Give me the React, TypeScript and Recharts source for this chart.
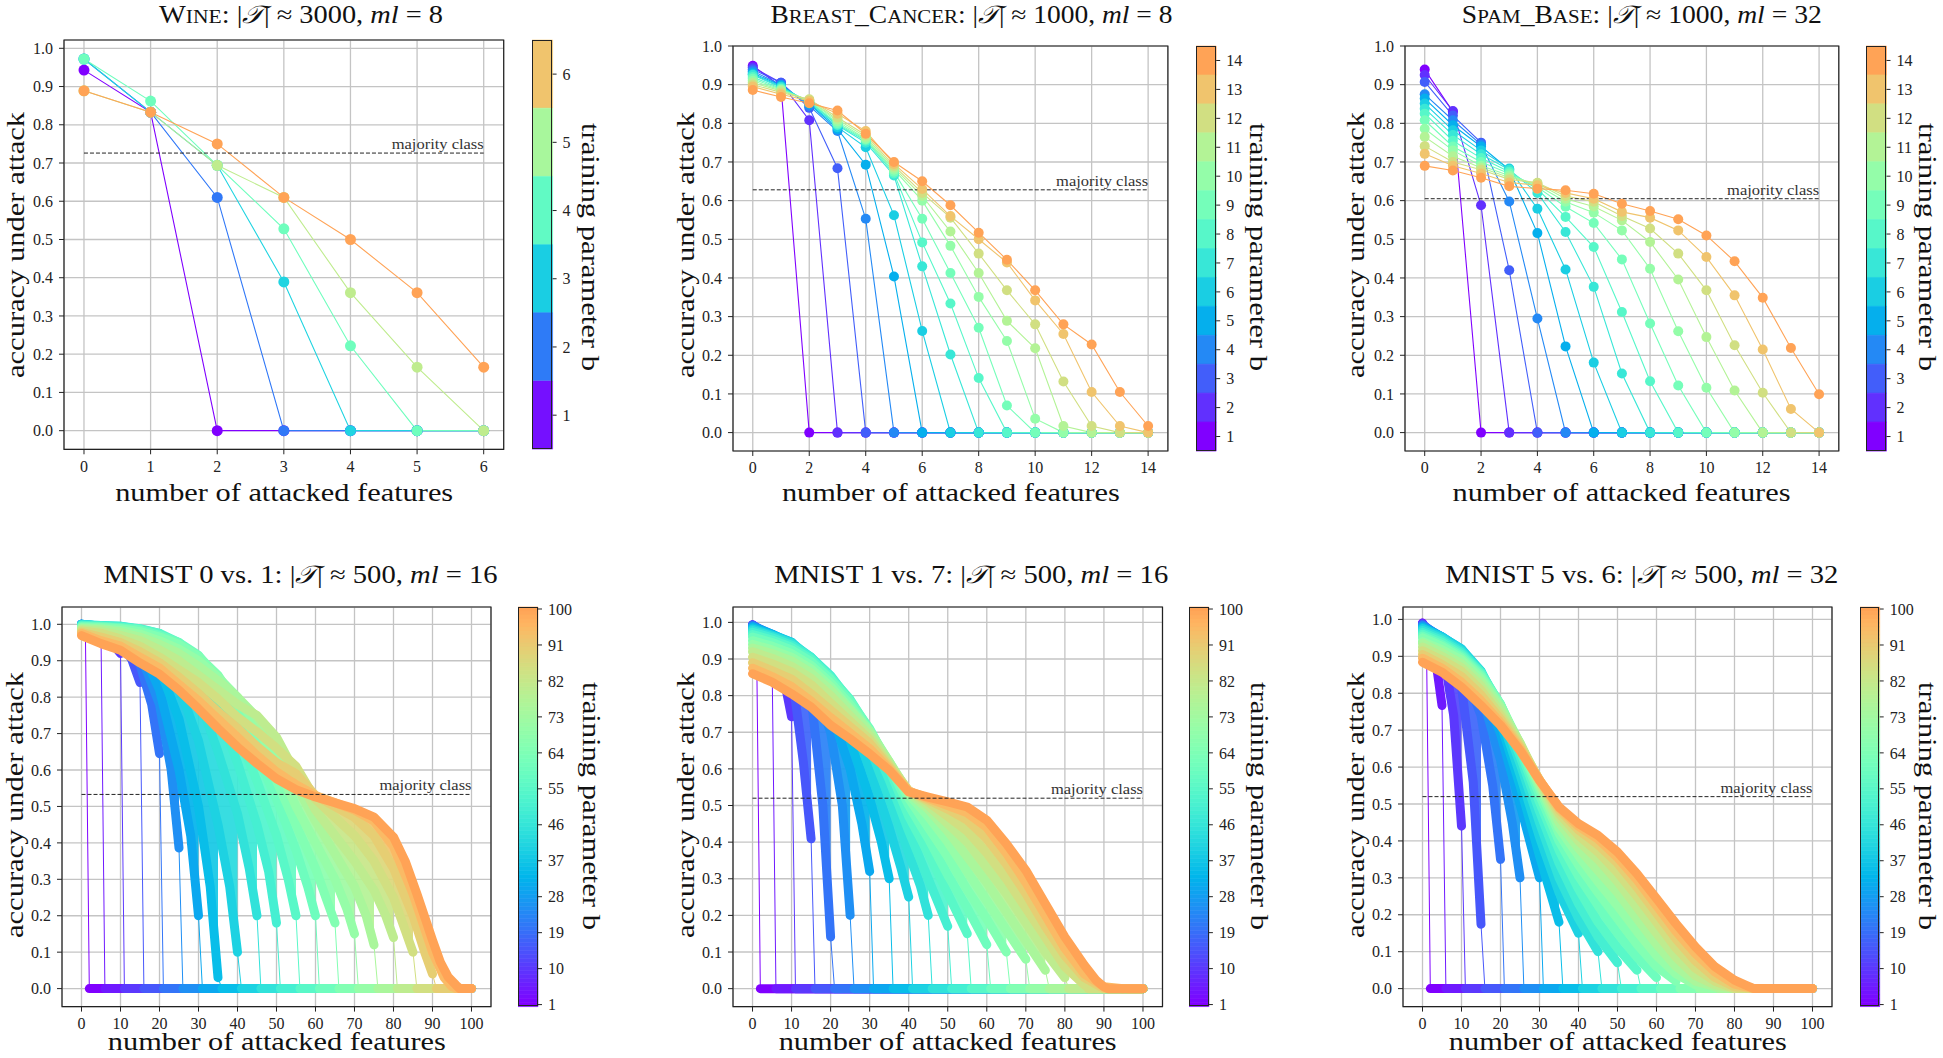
import React from 'react';
import { ComposedChart, Line, Area, XAxis, YAxis, CartesianGrid, ReferenceLine, ReferenceArea, BarChart, Bar, Cell } from 'recharts';

const FONT = '"Liberation Serif", "DejaVu Serif", serif';
const INK = '#222';
const GRID = '#c4c4c4';

const Y_TICKS = [0, 0.1, 0.2, 0.3, 0.4, 0.5, 0.6, 0.7, 0.8, 0.9, 1.0];

// ---------- Wine ----------
const WINE_X = [0, 1, 2, 3, 4, 5, 6];
const WINE_B = [1, 2, 3, 4, 5, 6];
const WINE_ACC = [
  [0.943, 0.833, 0, 0, 0, 0, 0],
  [0.972, 0.833, 0.61, 0, 0, 0, 0],
  [0.972, 0.833, 0.694, 0.389, 0, 0, 0],
  [0.972, 0.862, 0.694, 0.528, 0.222, 0, 0],
  [0.889, 0.833, 0.694, 0.61, 0.361, 0.166, 0],
  [0.889, 0.833, 0.75, 0.61, 0.5, 0.361, 0.166],
];
const WINE_MAJORITY = 0.726;

// ---------- Breast cancer ----------
const BC_X = [0, 1, 2, 3, 4, 5, 6, 7, 8, 9, 10, 11, 12, 13, 14];
const BC_B = [1, 2, 3, 4, 5, 6, 7, 8, 9, 10, 11, 12, 13, 14];
const BC_ACC = [
  [0.949, 0.895, 0, 0, 0, 0, 0, 0, 0, 0, 0, 0, 0, 0, 0],
  [0.945, 0.905, 0.808, 0, 0, 0, 0, 0, 0, 0, 0, 0, 0, 0, 0],
  [0.94, 0.905, 0.84, 0.684, 0, 0, 0, 0, 0, 0, 0, 0, 0, 0, 0],
  [0.935, 0.9, 0.845, 0.78, 0.553, 0, 0, 0, 0, 0, 0, 0, 0, 0, 0],
  [0.93, 0.898, 0.85, 0.785, 0.693, 0.404, 0, 0, 0, 0, 0, 0, 0, 0, 0],
  [0.927, 0.895, 0.852, 0.79, 0.738, 0.562, 0.263, 0, 0, 0, 0, 0, 0, 0, 0],
  [0.925, 0.893, 0.855, 0.795, 0.75, 0.665, 0.43, 0.202, 0, 0, 0, 0, 0, 0, 0],
  [0.92, 0.89, 0.856, 0.797, 0.755, 0.67, 0.492, 0.334, 0.141, 0, 0, 0, 0, 0, 0],
  [0.915, 0.888, 0.858, 0.8, 0.758, 0.675, 0.553, 0.413, 0.271, 0.07, 0, 0, 0, 0, 0],
  [0.91, 0.886, 0.86, 0.805, 0.76, 0.68, 0.6, 0.483, 0.351, 0.237, 0.036, 0, 0, 0, 0],
  [0.905, 0.884, 0.86, 0.81, 0.765, 0.685, 0.612, 0.52, 0.413, 0.289, 0.218, 0.017, 0, 0, 0],
  [0.9, 0.88, 0.862, 0.815, 0.77, 0.69, 0.62, 0.556, 0.463, 0.368, 0.28, 0.132, 0.017, 0, 0],
  [0.895, 0.875, 0.858, 0.825, 0.78, 0.695, 0.63, 0.56, 0.5, 0.44, 0.342, 0.255, 0.105, 0.017, 0],
  [0.886, 0.868, 0.852, 0.833, 0.773, 0.7, 0.65, 0.588, 0.517, 0.447, 0.368, 0.28, 0.228, 0.105, 0.017],
];
const BC_MAJORITY = 0.628;

// ---------- Spam base ----------
const SPAM_X = [0, 1, 2, 3, 4, 5, 6, 7, 8, 9, 10, 11, 12, 13, 14];
const SPAM_B = [1, 2, 3, 4, 5, 6, 7, 8, 9, 10, 11, 12, 13, 14];
const SPAM_ACC = [
  [0.939, 0.83, 0, 0, 0, 0, 0, 0, 0, 0, 0, 0, 0, 0, 0],
  [0.925, 0.832, 0.588, 0, 0, 0, 0, 0, 0, 0, 0, 0, 0, 0, 0],
  [0.907, 0.82, 0.75, 0.42, 0, 0, 0, 0, 0, 0, 0, 0, 0, 0, 0],
  [0.875, 0.808, 0.745, 0.598, 0.295, 0, 0, 0, 0, 0, 0, 0, 0, 0, 0],
  [0.864, 0.795, 0.74, 0.68, 0.516, 0.223, 0, 0, 0, 0, 0, 0, 0, 0, 0],
  [0.851, 0.782, 0.73, 0.683, 0.579, 0.422, 0.181, 0, 0, 0, 0, 0, 0, 0, 0],
  [0.838, 0.77, 0.72, 0.68, 0.62, 0.519, 0.377, 0.153, 0, 0, 0, 0, 0, 0, 0],
  [0.825, 0.755, 0.71, 0.675, 0.63, 0.558, 0.48, 0.312, 0.133, 0, 0, 0, 0, 0, 0],
  [0.808, 0.74, 0.7, 0.67, 0.635, 0.584, 0.542, 0.448, 0.282, 0.122, 0, 0, 0, 0, 0],
  [0.786, 0.73, 0.69, 0.665, 0.64, 0.597, 0.569, 0.523, 0.424, 0.262, 0.116, 0, 0, 0, 0],
  [0.765, 0.715, 0.685, 0.66, 0.645, 0.605, 0.585, 0.549, 0.493, 0.396, 0.247, 0.109, 0, 0, 0],
  [0.741, 0.7, 0.68, 0.655, 0.646, 0.612, 0.597, 0.56, 0.528, 0.463, 0.368, 0.226, 0.103, 0, 0],
  [0.721, 0.69, 0.67, 0.647, 0.64, 0.62, 0.605, 0.571, 0.556, 0.523, 0.454, 0.355, 0.215, 0.061, 0],
  [0.69, 0.678, 0.659, 0.637, 0.631, 0.627, 0.618, 0.592, 0.573, 0.552, 0.51, 0.443, 0.349, 0.219, 0.099],
];
const SPAM_MAJORITY = 0.605;

// ---------- MNIST (sampled b values, [features, accuracy] pairs) ----------
const MNIST_B = [1, 5, 10, 15, 20, 25, 30, 35, 40, 45, 50, 55, 60, 65, 70, 75, 80, 85, 90, 95, 100];
const MNIST_XTICKS = [0, 10, 20, 30, 40, 50, 60, 70, 80, 90, 100];
const MNIST_CB_TICKS = [1, 10, 19, 28, 37, 46, 55, 64, 73, 82, 91, 100];

const M01_CURVES = [
  [[0, 1.0], [1, 0.98]],
  [[0, 1.0], [5, 0.97]],
  [[0, 1.0], [5, 0.985], [10, 0.92]],
  [[0, 1.0], [5, 0.99], [10, 0.96], [13, 0.9], [15, 0.84]],
  [[0, 1.0], [5, 0.99], [10, 0.97], [15, 0.89], [18, 0.78], [20, 0.645]],
  [[0, 1.0], [5, 0.99], [10, 0.975], [15, 0.92], [20, 0.78], [23, 0.6], [25, 0.386]],
  [[0, 1.0], [5, 0.995], [10, 0.98], [15, 0.94], [20, 0.82], [25, 0.6], [28, 0.42], [30, 0.2]],
  [[0, 1.0], [5, 0.995], [10, 0.985], [15, 0.96], [20, 0.88], [25, 0.74], [30, 0.5], [33, 0.28], [35, 0.03]],
  [[0, 1.0], [5, 0.995], [10, 0.99], [15, 0.975], [20, 0.93], [25, 0.83], [30, 0.68], [35, 0.45], [38, 0.28], [40, 0.1]],
  [[0, 0.999], [5, 0.997], [10, 0.995], [15, 0.985], [20, 0.96], [25, 0.9], [30, 0.8], [35, 0.65], [40, 0.48], [43, 0.33], [45, 0.2]],
  [[0, 0.998], [5, 0.997], [10, 0.995], [15, 0.988], [20, 0.975], [25, 0.93], [30, 0.86], [35, 0.76], [40, 0.62], [45, 0.45], [48, 0.32], [50, 0.18]],
  [[0, 0.996], [5, 0.995], [10, 0.992], [15, 0.987], [20, 0.975], [25, 0.95], [30, 0.9], [35, 0.82], [40, 0.7], [45, 0.57], [50, 0.42], [53, 0.3], [55, 0.2]],
  [[0, 0.994], [5, 0.993], [10, 0.99], [15, 0.985], [20, 0.97], [25, 0.95], [30, 0.915], [35, 0.85], [40, 0.75], [45, 0.64], [50, 0.52], [55, 0.38], [58, 0.28], [60, 0.2]],
  [[0, 0.992], [5, 0.991], [10, 0.988], [15, 0.98], [20, 0.965], [25, 0.945], [30, 0.912], [35, 0.86], [40, 0.78], [45, 0.68], [50, 0.57], [55, 0.45], [60, 0.33], [63, 0.24], [65, 0.18]],
  [[0, 0.99], [5, 0.988], [10, 0.983], [15, 0.973], [20, 0.955], [25, 0.932], [30, 0.9], [35, 0.855], [40, 0.8], [45, 0.72], [50, 0.62], [55, 0.5], [60, 0.4], [65, 0.3], [68, 0.22], [70, 0.15]],
  [[0, 0.988], [5, 0.985], [10, 0.978], [15, 0.965], [20, 0.945], [25, 0.92], [30, 0.885], [35, 0.845], [40, 0.8], [45, 0.745], [50, 0.67], [55, 0.56], [60, 0.46], [65, 0.37], [70, 0.28], [73, 0.2], [75, 0.12]],
  [[0, 0.985], [5, 0.98], [10, 0.97], [15, 0.955], [20, 0.93], [25, 0.9], [30, 0.86], [35, 0.82], [40, 0.78], [45, 0.75], [50, 0.69], [55, 0.59], [60, 0.49], [65, 0.42], [70, 0.35], [75, 0.27], [78, 0.2], [80, 0.14]],
  [[0, 0.982], [5, 0.975], [10, 0.96], [15, 0.94], [20, 0.91], [25, 0.875], [30, 0.84], [35, 0.795], [40, 0.745], [45, 0.705], [50, 0.66], [55, 0.61], [60, 0.52], [65, 0.47], [70, 0.42], [75, 0.35], [80, 0.25], [83, 0.16], [85, 0.1]],
  [[0, 0.978], [5, 0.965], [10, 0.95], [15, 0.925], [20, 0.895], [25, 0.855], [30, 0.81], [35, 0.76], [40, 0.715], [45, 0.665], [50, 0.62], [55, 0.59], [60, 0.53], [65, 0.5], [70, 0.47], [75, 0.42], [80, 0.33], [85, 0.2], [88, 0.1], [90, 0.04]],
  [[0, 0.975], [5, 0.955], [10, 0.94], [15, 0.91], [20, 0.88], [25, 0.835], [30, 0.79], [35, 0.74], [40, 0.69], [45, 0.64], [50, 0.595], [55, 0.56], [60, 0.53], [65, 0.51], [70, 0.49], [75, 0.46], [80, 0.39], [85, 0.26], [90, 0.1], [93, 0.03], [95, 0.005]],
  [[0, 0.969], [5, 0.947], [10, 0.929], [15, 0.894], [20, 0.863], [25, 0.819], [30, 0.768], [35, 0.714], [40, 0.663], [45, 0.618], [50, 0.576], [55, 0.546], [60, 0.526], [65, 0.51], [70, 0.494], [75, 0.471], [80, 0.416], [83, 0.35], [86, 0.26], [88, 0.197], [90, 0.133], [92, 0.073], [94, 0.032], [96, 0.01], [97, 0], [100, 0]],
];
const M01_MAJORITY = 0.533;

const M17_CURVES = [
  [[0, 0.993], [1, 0.985]],
  [[0, 0.993], [3, 0.96], [5, 0.9]],
  [[0, 0.993], [5, 0.94], [8, 0.85], [10, 0.742]],
  [[0, 0.993], [5, 0.96], [10, 0.87], [13, 0.62], [15, 0.409]],
  [[0, 0.992], [5, 0.965], [10, 0.92], [15, 0.8], [18, 0.5], [20, 0.141]],
  [[0, 0.99], [5, 0.968], [10, 0.935], [15, 0.86], [20, 0.7], [23, 0.5], [25, 0.2]],
  [[0, 0.988], [5, 0.968], [10, 0.943], [15, 0.88], [20, 0.76], [25, 0.6], [28, 0.45], [30, 0.32]],
  [[0, 0.985], [5, 0.967], [10, 0.946], [15, 0.89], [20, 0.8], [25, 0.68], [30, 0.52], [33, 0.4], [35, 0.3]],
  [[0, 0.982], [5, 0.965], [10, 0.946], [15, 0.9], [20, 0.83], [25, 0.74], [30, 0.6], [35, 0.44], [38, 0.33], [40, 0.25]],
  [[0, 0.978], [5, 0.962], [10, 0.943], [15, 0.905], [20, 0.85], [25, 0.77], [30, 0.66], [35, 0.52], [40, 0.37], [43, 0.28], [45, 0.2]],
  [[0, 0.973], [5, 0.958], [10, 0.938], [15, 0.905], [20, 0.855], [25, 0.785], [30, 0.69], [35, 0.57], [40, 0.43], [45, 0.3], [50, 0.17]],
  [[0, 0.967], [5, 0.952], [10, 0.932], [15, 0.9], [20, 0.85], [25, 0.79], [30, 0.705], [35, 0.6], [40, 0.47], [45, 0.37], [50, 0.26], [55, 0.15]],
  [[0, 0.96], [5, 0.945], [10, 0.925], [15, 0.893], [20, 0.845], [25, 0.785], [30, 0.71], [35, 0.61], [40, 0.5], [45, 0.41], [50, 0.31], [55, 0.22], [60, 0.12]],
  [[0, 0.95], [5, 0.935], [10, 0.915], [15, 0.883], [20, 0.835], [25, 0.775], [30, 0.705], [35, 0.615], [40, 0.52], [45, 0.44], [50, 0.36], [55, 0.27], [60, 0.19], [65, 0.1]],
  [[0, 0.94], [5, 0.925], [10, 0.905], [15, 0.873], [20, 0.825], [25, 0.765], [30, 0.705], [35, 0.62], [40, 0.53], [45, 0.47], [50, 0.4], [55, 0.32], [60, 0.24], [65, 0.16], [70, 0.08]],
  [[0, 0.93], [5, 0.915], [10, 0.895], [15, 0.862], [20, 0.815], [25, 0.76], [30, 0.7], [35, 0.62], [40, 0.535], [45, 0.49], [50, 0.43], [55, 0.36], [60, 0.29], [65, 0.21], [70, 0.13], [75, 0.05]],
  [[0, 0.92], [5, 0.902], [10, 0.88], [15, 0.847], [20, 0.8], [25, 0.745], [30, 0.69], [35, 0.615], [40, 0.54], [45, 0.5], [50, 0.45], [55, 0.4], [60, 0.33], [65, 0.26], [70, 0.18], [75, 0.1], [80, 0.03]],
  [[0, 0.905], [5, 0.887], [10, 0.865], [15, 0.83], [20, 0.78], [25, 0.73], [30, 0.68], [35, 0.61], [40, 0.54], [45, 0.51], [50, 0.47], [55, 0.43], [60, 0.37], [65, 0.3], [70, 0.22], [75, 0.14], [80, 0.06], [85, 0.01]],
  [[0, 0.89], [5, 0.868], [10, 0.845], [15, 0.805], [20, 0.76], [25, 0.715], [30, 0.67], [35, 0.605], [40, 0.54], [45, 0.515], [50, 0.49], [55, 0.46], [60, 0.41], [65, 0.34], [70, 0.26], [75, 0.17], [80, 0.09], [85, 0.03], [90, 0]],
  [[0, 0.875], [5, 0.852], [10, 0.825], [15, 0.785], [20, 0.74], [25, 0.698], [30, 0.655], [35, 0.6], [40, 0.54], [45, 0.52], [50, 0.5], [55, 0.48], [60, 0.44], [65, 0.37], [70, 0.29], [75, 0.2], [80, 0.11], [85, 0.04], [90, 0.005], [95, 0]],
  [[0, 0.86], [5, 0.837], [10, 0.805], [15, 0.769], [20, 0.719], [25, 0.682], [30, 0.641], [35, 0.596], [40, 0.537], [45, 0.523], [50, 0.51], [55, 0.496], [60, 0.46], [65, 0.396], [70, 0.323], [75, 0.232], [80, 0.141], [85, 0.064], [88, 0.023], [90, 0.005], [91, 0], [100, 0]],
];
const M17_MAJORITY = 0.52;

const M56_CURVES = [
  [[0, 0.99], [1, 0.96]],
  [[0, 0.99], [3, 0.92], [5, 0.767]],
  [[0, 0.988], [5, 0.93], [8, 0.74], [10, 0.44]],
  [[0, 0.987], [5, 0.945], [10, 0.82], [13, 0.56], [15, 0.174]],
  [[0, 0.985], [5, 0.95], [10, 0.88], [15, 0.74], [18, 0.55], [20, 0.35]],
  [[0, 0.983], [5, 0.952], [10, 0.905], [15, 0.8], [20, 0.62], [23, 0.45], [25, 0.3]],
  [[0, 0.98], [5, 0.953], [10, 0.915], [15, 0.83], [20, 0.69], [25, 0.5], [28, 0.38], [30, 0.3]],
  [[0, 0.978], [5, 0.953], [10, 0.92], [15, 0.85], [20, 0.72], [25, 0.55], [30, 0.36], [35, 0.18]],
  [[0, 0.975], [5, 0.952], [10, 0.92], [15, 0.86], [20, 0.74], [25, 0.58], [30, 0.41], [35, 0.26], [40, 0.15]],
  [[0, 0.97], [5, 0.948], [10, 0.915], [15, 0.86], [20, 0.755], [25, 0.61], [30, 0.45], [35, 0.3], [40, 0.19], [45, 0.1]],
  [[0, 0.965], [5, 0.943], [10, 0.91], [15, 0.858], [20, 0.765], [25, 0.63], [30, 0.48], [35, 0.34], [40, 0.23], [45, 0.14], [50, 0.07]],
  [[0, 0.96], [5, 0.938], [10, 0.905], [15, 0.855], [20, 0.77], [25, 0.645], [30, 0.505], [35, 0.375], [40, 0.27], [45, 0.18], [50, 0.11], [55, 0.05]],
  [[0, 0.955], [5, 0.932], [10, 0.9], [15, 0.85], [20, 0.77], [25, 0.655], [30, 0.525], [35, 0.4], [40, 0.305], [45, 0.225], [50, 0.15], [55, 0.085], [60, 0.03]],
  [[0, 0.95], [5, 0.927], [10, 0.895], [15, 0.845], [20, 0.77], [25, 0.66], [30, 0.54], [35, 0.42], [40, 0.335], [45, 0.26], [50, 0.19], [55, 0.12], [60, 0.06], [65, 0.02]],
  [[0, 0.94], [5, 0.918], [10, 0.89], [15, 0.838], [20, 0.765], [25, 0.665], [30, 0.55], [35, 0.435], [40, 0.36], [45, 0.29], [50, 0.225], [55, 0.155], [60, 0.09], [65, 0.04], [70, 0.01]],
  [[0, 0.935], [5, 0.91], [10, 0.88], [15, 0.83], [20, 0.76], [25, 0.665], [30, 0.555], [35, 0.45], [40, 0.38], [45, 0.32], [50, 0.26], [55, 0.19], [60, 0.12], [65, 0.06], [70, 0.02], [75, 0.005]],
  [[0, 0.925], [5, 0.9], [10, 0.87], [15, 0.82], [20, 0.75], [25, 0.665], [30, 0.56], [35, 0.465], [40, 0.4], [45, 0.35], [50, 0.29], [55, 0.22], [60, 0.15], [65, 0.085], [70, 0.035], [75, 0.01], [80, 0]],
  [[0, 0.915], [5, 0.89], [10, 0.86], [15, 0.808], [20, 0.74], [25, 0.66], [30, 0.565], [35, 0.475], [40, 0.415], [45, 0.37], [50, 0.315], [55, 0.25], [60, 0.18], [65, 0.11], [70, 0.055], [75, 0.02], [80, 0], [85, 0]],
  [[0, 0.905], [5, 0.878], [10, 0.845], [15, 0.795], [20, 0.73], [25, 0.655], [30, 0.565], [35, 0.485], [40, 0.43], [45, 0.39], [50, 0.34], [55, 0.275], [60, 0.205], [65, 0.135], [70, 0.075], [75, 0.03], [80, 0.005], [85, 0], [90, 0]],
  [[0, 0.895], [5, 0.868], [10, 0.83], [15, 0.78], [20, 0.72], [25, 0.65], [30, 0.565], [35, 0.49], [40, 0.44], [45, 0.405], [50, 0.355], [55, 0.295], [60, 0.225], [65, 0.155], [70, 0.095], [75, 0.045], [80, 0.012], [85, 0], [95, 0]],
  [[0, 0.884], [5, 0.857], [10, 0.817], [15, 0.767], [20, 0.713], [25, 0.645], [30, 0.564], [35, 0.492], [40, 0.447], [45, 0.415], [50, 0.37], [55, 0.311], [60, 0.244], [65, 0.176], [70, 0.113], [75, 0.059], [80, 0.023], [83, 0.009], [85, 0], [100, 0]],
];
const M56_MAJORITY = 0.52;

// matplotlib "rainbow" colormap
function rainbow(t: number) {
  const r = Math.min(1, Math.abs(2 * t - 0.5));
  const g = Math.sin(Math.PI * t);
  const b = Math.cos((Math.PI * t) / 2);
  return `rgb(${Math.round(r * 255)},${Math.round(g * 255)},${Math.round(b * 255)})`;
}

const tickStyle = { fontSize: 16, fontFamily: FONT, fill: INK };

type Box = { L: number; R: number; T: number; B: number };

function Panel({ box, xDomain, yDomain, xTicks, majority, majorityEnd, lines }: any) {
  const YW = 60, XH = 40, PAD = 16;
  const w = box.R - box.L, h = box.B - box.T;
  return (
    <div style={{ position: 'absolute', left: box.L - YW, top: box.T - PAD }}>
      <ComposedChart width={w + YW + PAD} height={h + PAD + XH} margin={{ top: PAD, right: PAD, bottom: 0, left: 0 }}>
        <CartesianGrid stroke={GRID} strokeWidth={1.3} />
        <XAxis type="number" dataKey="x" domain={xDomain} ticks={xTicks} interval={0} allowDataOverflow
          height={XH} tickSize={5} tickMargin={6} tick={tickStyle} axisLine={false} tickLine={{ stroke: INK }} />
        <YAxis type="number" domain={yDomain} ticks={Y_TICKS} interval={0} allowDataOverflow width={YW}
          tickFormatter={(v: number) => v.toFixed(1)} tickSize={5} tickMargin={6} tick={tickStyle}
          axisLine={false} tickLine={{ stroke: INK }} />
        {lines}
        <ReferenceLine
          segment={[{ x: 0, y: majority }, { x: majorityEnd, y: majority }]}
          stroke={INK} strokeDasharray="4 2" strokeWidth={1}
          label={(p: any) => {
            const vb = p.viewBox || {};
            return (
              <text x={(vb.x || 0) + (vb.width || 0)} y={(vb.y || 0) - 4} textAnchor="end"
                fontSize={14} fontFamily={FONT} fill="#333" textLength={92} lengthAdjust="spacingAndGlyphs">majority class</text>
            );
          }}
        />
        <ReferenceArea x1={xDomain[0]} x2={xDomain[1]} y1={yDomain[0]} y2={yDomain[1]}
          fill="none" stroke={INK} strokeWidth={1.2} ifOverflow="visible" />
      </ComposedChart>
    </div>
  );
}

function smallLines(xs: number[], bs: number[], acc: number[][], r: number) {
  const n = bs.length;
  return bs.map((b, i) => {
    const c = rainbow(((b - 1) / (n - 1)) * 0.78);
    const data = xs.map((x, j) => ({ x, y: acc[i][j] }));
    return (
      <Line key={`s${b}`} data={data} dataKey="y" type="linear" stroke={c} strokeWidth={1.1}
        dot={{ r, fill: c, stroke: c, strokeWidth: 0 }} activeDot={false} isAnimationActive={false} />
    );
  });
}

// band between two neighbouring sampled curves, at the feature counts both share
function pairBand(curA: number[][], curB: number[][]) {
  const out: any[] = [];
  curA.forEach(([x, ya]) => {
    const m = curB.find((p) => p[0] === x);
    if (m) out.push({ x, y: [ya, m[1]] });
  });
  return out;
}

function mnistLines(curves: number[][][]) {
  const fills: any[] = [];
  const out: any[] = [];
  MNIST_B.forEach((b, i) => {
    if (i < MNIST_B.length - 1) {
      const band = pairBand(curves[i], curves[i + 1]);
      if (band.length > 1) {
        const cm = rainbow((((b + MNIST_B[i + 1]) / 2 - 1) / 99) * 0.78);
        fills.push(
          <Area key={`f${b}`} data={band} dataKey="y" type="linear" stroke="none" fill={cm}
            fillOpacity={0.92} dot={false} activeDot={false} isAnimationActive={false} />
        );
      }
    }
    const c = rainbow(((b - 1) / 99) * 0.78);
    const pts = curves[i].map(([x, y]) => ({ x, y }));
    const last = pts[pts.length - 1];
    if (last.x < 100) {
      out.push(
        <Line key={`d${b}`} data={[last, { x: b + 1, y: 0 }]} dataKey="y" type="linear" stroke={c}
          strokeWidth={1} dot={false} activeDot={false} isAnimationActive={false} />
      );
      out.push(
        <Line key={`z${b}`} data={[{ x: b + 1, y: 0 }, { x: 100, y: 0 }]} dataKey="y" type="linear" stroke={c}
          strokeWidth={9} strokeLinecap="round" dot={false} activeDot={false} isAnimationActive={false} />
      );
    }
    out.push(
      <Line key={`c${b}`} data={pts} dataKey="y" type="linear" stroke={c} strokeWidth={9}
        strokeLinecap="round" strokeLinejoin="round" dot={false} activeDot={false} isAnimationActive={false} />
    );
  });
  return [...fills, ...out];
}

function ColorBar({ box, levels, colors, ticks }: any) {
  const M = 12;
  const w = box.R - box.L, h = box.B - box.T;
  const data = levels.map((lv: number, i: number) => ({ level: lv, v: 1, c: colors[i] })).reverse();
  return (
    <div style={{ position: 'absolute', left: box.L, top: box.T - M }}>
      <BarChart width={w + 50} height={h + 2 * M} layout="vertical" data={data}
        margin={{ top: M, right: 0, bottom: M, left: 0 }} barCategoryGap={0} barGap={0}>
        <XAxis type="number" domain={[0, 1]} hide />
        <YAxis type="category" dataKey="level" orientation="right" width={50} ticks={ticks} interval={0}
          tickSize={4} tickMargin={6} tick={tickStyle} axisLine={false} tickLine={{ stroke: INK }} />
        <Bar dataKey="v" isAnimationActive={false}>
          {data.map((d: any) => (
            <Cell key={d.level} fill={d.c} stroke={d.c} strokeWidth={0.6} />
          ))}
        </Bar>
      </BarChart>
      <div style={{ position: 'absolute', left: 0, top: M, width: w, height: h, border: `1px solid ${INK}`, boxSizing: 'border-box' }} />
    </div>
  );
}

const WINE_BOX: Box = { L: 64.3, R: 504, T: 40, B: 449.3 };
const BC_BOX: Box = { L: 733.4, R: 1168.3, T: 45.7, B: 450.7 };
const SPAM_BOX: Box = { L: 1404.6, R: 1838.4, T: 45.7, B: 450.7 };
const M01_BOX: Box = { L: 62.3, R: 491.3, T: 606.7, B: 1006.3 };
const M17_BOX: Box = { L: 732.9, R: 1162.4, T: 606.7, B: 1006.3 };
const M56_BOX: Box = { L: 1403.3, R: 1832.3, T: 606.7, B: 1006.3 };

const WINE_CB: Box = { L: 531.7, R: 552.3, T: 40, B: 449.3 };
const BC_CB: Box = { L: 1195.6, R: 1215.8, T: 45.7, B: 450.7 };
const SPAM_CB: Box = { L: 1865.9, R: 1886.4, T: 45.7, B: 450.7 };
const M01_CB: Box = { L: 518.3, R: 538.3, T: 606.7, B: 1006.3 };
const M17_CB: Box = { L: 1189, R: 1208.9, T: 606.7, B: 1006.3 };
const M56_CB: Box = { L: 1859.7, R: 1879.4, T: 606.7, B: 1006.3 };

const MNIST_LEVELS = Array.from({ length: 100 }, (_, i) => i + 1);

function Title({ x, y, len, children }: any) {
  return (
    <text x={x} y={y} textAnchor="middle" fontSize={25} fontFamily={FONT} fill="#111"
      textLength={len} lengthAdjust="spacingAndGlyphs">{children}</text>
  );
}

const SC = 19; // small-caps size
const Tcal = () => <tspan fontFamily='"DejaVu Sans", serif' fontStyle="italic">𝒯</tspan>;

export default function App() {
  const wineColors = WINE_B.map((k) => rainbow(0.02 + (k - 1) * 0.14));
  const c14 = BC_B.map((k) => rainbow(((k - 1) / 13) * 0.78));
  const c100 = MNIST_LEVELS.map((k) => rainbow(((k - 1) / 99) * 0.78));

  const yLabels = [[15, 245], [685.5, 245], [1355, 245], [14.5, 805], [685, 805], [1355, 805]];
  const cbLabels = [[590, 247], [1258.7, 247], [1927, 247], [591.7, 806], [1259.5, 806], [1927.4, 806]];
  const xLabels = [[284.2, 501], [950.9, 501], [1621.5, 501], [276.8, 1050], [947.7, 1050], [1617.8, 1050]];

  return (
    <div style={{ position: 'absolute', left: 0, top: 0, width: 1943, height: 1058, background: '#fff', overflow: 'hidden' }}>
      <Panel box={WINE_BOX} xDomain={[-0.3, 6.3]} yDomain={[-0.0487, 1.0217]} xTicks={WINE_X}
        majority={WINE_MAJORITY} majorityEnd={6} lines={smallLines(WINE_X, WINE_B, WINE_ACC, 5.5)} />
      <Panel box={BC_BOX} xDomain={[-0.7, 14.7]} yDomain={[-0.0476, 1.0]} xTicks={[0, 2, 4, 6, 8, 10, 12, 14]}
        majority={BC_MAJORITY} majorityEnd={14} lines={smallLines(BC_X, BC_B, BC_ACC, 5)} />
      <Panel box={SPAM_BOX} xDomain={[-0.7, 14.7]} yDomain={[-0.0476, 1.0]} xTicks={[0, 2, 4, 6, 8, 10, 12, 14]}
        majority={SPAM_MAJORITY} majorityEnd={14} lines={smallLines(SPAM_X, SPAM_B, SPAM_ACC, 5)} />
      <Panel box={M01_BOX} xDomain={[-5, 105]} yDomain={[-0.0494, 1.0475]} xTicks={MNIST_XTICKS}
        majority={M01_MAJORITY} majorityEnd={100} lines={mnistLines(M01_CURVES)} />
      <Panel box={M17_BOX} xDomain={[-5, 105]} yDomain={[-0.049, 1.042]} xTicks={MNIST_XTICKS}
        majority={M17_MAJORITY} majorityEnd={100} lines={mnistLines(M17_CURVES)} />
      <Panel box={M56_BOX} xDomain={[-5, 105]} yDomain={[-0.0487, 1.0336]} xTicks={MNIST_XTICKS}
        majority={M56_MAJORITY} majorityEnd={100} lines={mnistLines(M56_CURVES)} />

      <ColorBar box={WINE_CB} levels={WINE_B} colors={wineColors} ticks={WINE_B} />
      <ColorBar box={BC_CB} levels={BC_B} colors={c14} ticks={BC_B} />
      <ColorBar box={SPAM_CB} levels={SPAM_B} colors={c14} ticks={SPAM_B} />
      <ColorBar box={M01_CB} levels={MNIST_LEVELS} colors={c100} ticks={MNIST_CB_TICKS} />
      <ColorBar box={M17_CB} levels={MNIST_LEVELS} colors={c100} ticks={MNIST_CB_TICKS} />
      <ColorBar box={M56_CB} levels={MNIST_LEVELS} colors={c100} ticks={MNIST_CB_TICKS} />

      <svg width={1943} height={1058} style={{ position: 'absolute', left: 0, top: 0, pointerEvents: 'none' }}>
        <Title x={301} y={23} len={284}>
          W<tspan fontSize={SC}>INE</tspan>: |<Tcal />| ≈ 3000, <tspan fontStyle="italic">ml</tspan> = 8
        </Title>
        <Title x={971.5} y={23} len={402}>
          B<tspan fontSize={SC}>REAST</tspan>_C<tspan fontSize={SC}>ANCER</tspan>: |<Tcal />| ≈ 1000, <tspan fontStyle="italic">ml</tspan> = 8
        </Title>
        <Title x={1641.8} y={23} len={360}>
          S<tspan fontSize={SC}>PAM</tspan>_B<tspan fontSize={SC}>ASE</tspan>: |<Tcal />| ≈ 1000, <tspan fontStyle="italic">ml</tspan> = 32
        </Title>
        <Title x={300.6} y={583.3} len={394}>
          MNIST 0 vs. 1: |<Tcal />| ≈ 500, <tspan fontStyle="italic">ml</tspan> = 16
        </Title>
        <Title x={971.2} y={583.3} len={394}>
          MNIST 1 vs. 7: |<Tcal />| ≈ 500, <tspan fontStyle="italic">ml</tspan> = 16
        </Title>
        <Title x={1641.8} y={583.3} len={393}>
          MNIST 5 vs. 6: |<Tcal />| ≈ 500, <tspan fontStyle="italic">ml</tspan> = 32
        </Title>

        {yLabels.map(([x, y], i) => (
          <text key={`yl${i}`} transform={`translate(${x},${y}) rotate(-90)`} textAnchor="middle"
            dominantBaseline="central" fontSize={26} fontFamily={FONT} fill="#111"
            textLength={266} lengthAdjust="spacingAndGlyphs">accuracy under attack</text>
        ))}
        {cbLabels.map(([x, y], i) => (
          <text key={`cl${i}`} transform={`translate(${x},${y}) rotate(90)`} textAnchor="middle"
            dominantBaseline="central" fontSize={26} fontFamily={FONT} fill="#111"
            textLength={248} lengthAdjust="spacingAndGlyphs">training parameter b</text>
        ))}
        {xLabels.map(([x, y], i) => (
          <text key={`xl${i}`} x={x} y={y} textAnchor="middle" fontSize={25} fontFamily={FONT} fill="#111"
            textLength={338} lengthAdjust="spacingAndGlyphs">number of attacked features</text>
        ))}
      </svg>
    </div>
  );
}
